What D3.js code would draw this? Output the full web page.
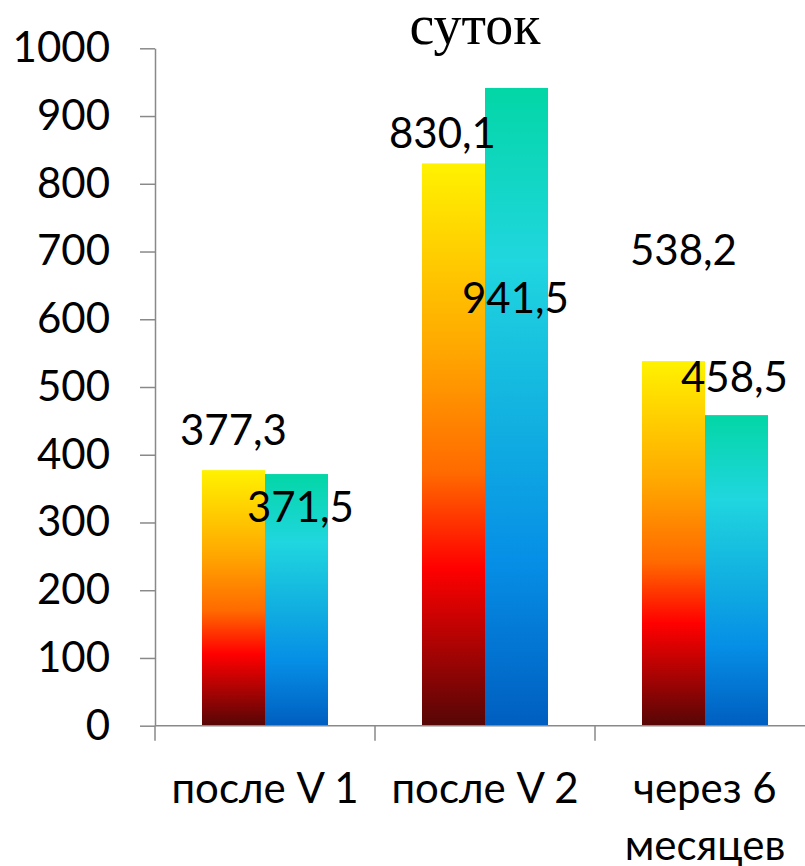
<!DOCTYPE html>
<html>
<head>
<meta charset="utf-8">
<script src="https://cdn.jsdelivr.net/npm/d3@7"></script>
<style>
  html, body { margin: 0; padding: 0; background: #fff; }
  svg { display: block; }
  .tick text { font-family: Lato, "Noto Sans", sans-serif; fill: #000; }
</style>
</head>
<body>
<div id="chart"></div>
<script>

// data
const categories = ["после V 1", "после V 2", "через 6 месяцев"];
const seriesNames = ["s1", "s2"];
const series1 = [377.3, 830.1, 538.2];
const series2 = [371.5, 941.5, 458.5];
const valueLabels1 = ["377,3", "830,1", "538,2"];
const valueLabels2 = ["371,5", "941,5", "458,5"];
const yTicks = [0, 100, 200, 300, 400, 500, 600, 700, 800, 900, 1000];
const titleText = "суток";

// label nudges (px, relative to bar center / bar top) - the original labels sit oddly
const labelShift = [
	[[0, -25], [-11, -15], [10, -96]],
	[[4, 48], [-1, 225], [-2, -23]]
];

const width = 805, height = 866;
const margin = {top: 48, right: 0, bottom: 140, left: 155};

const svg = d3.select("#chart").append("svg")
	.attr("width", width)
	.attr("height", height);

// gradients, one per series, applied per bar
const defs = svg.append("defs");
const gradStops = [
	[[0, "#fff200"], [0.33, "#ffa800"], [0.55, "#ff6a00"], [0.72, "#ff0000"], [1, "#560606"]],
	[[0, "#03d6a6"], [0.27, "#20d6df"], [0.5, "#13b4e0"], [0.74, "#068fe6"], [1, "#005ec0"]]
];
gradStops.forEach((stops, i) => {
	let g = defs.append("linearGradient")
		.attr("id", "grad" + i)
		.attr("x1", 0).attr("y1", 0)
		.attr("x2", 0).attr("y2", 1);
	stops.forEach(s => {
		g.append("stop").attr("offset", s[0]).attr("stop-color", s[1]);
	});
});

// scales
const x0 = d3.scaleBand()
	.domain(categories)
	.range([margin.left, margin.left + 220 * categories.length])
	.padding(0);

const x1 = d3.scaleBand()
	.domain(seriesNames)
	.range([x0.bandwidth() / 2 - 63, x0.bandwidth() / 2 + 63])
	.padding(0);

const y = d3.scaleLinear()
	.domain([0, 1000])
	.range([725.7, 48.3]);

// y axis
const yAxis = d3.axisLeft(y)
	.tickValues(yTicks)
	.tickFormat(d3.format("d"))
	.tickSize(15)
	.tickPadding(30)
	.tickSizeOuter(0);

const gy = svg.append("g")
	.attr("transform", "translate(" + margin.left + ",0)")
	.call(yAxis);
gy.selectAll("line, path").attr("stroke", "#898989").attr("stroke-width", 1.5);
gy.selectAll("text").style("font-size", "42px");

// bars
const table = categories.map((c, i) => ({cat: c, vals: [series1[i], series2[i]]}));

const groups = svg.selectAll(".group")
	.data(table)
	.enter()
	.append("g")
	.attr("class", "group")
	.attr("transform", d => "translate(" + x0(d.cat) + ",0)");

groups.selectAll("rect")
	.data(d => d.vals.map((v, j) => ({key: seriesNames[j], v: v, j: j})))
	.enter()
	.append("rect")
	.attr("x", d => x1(d.key))
	.attr("y", d => y(d.v))
	.attr("width", x1.bandwidth())
	.attr("height", d => y(0) - y(d.v))
	.attr("fill", d => "url(#grad" + d.j + ")");

// x axis line and separators
svg.append("line")
	.attr("x1", margin.left).attr("x2", width)
	.attr("y1", y(0)).attr("y2", y(0))
	.attr("stroke", "#898989").attr("stroke-width", 1.5);

const seps = categories.map(c => x0(c)).concat([x0.range()[1]]);
svg.selectAll(".sep")
	.data(seps)
	.enter()
	.append("line")
	.attr("class", "sep")
	.attr("x1", d => d).attr("x2", d => d)
	.attr("y1", y(0)).attr("y2", y(0) + 15)
	.attr("stroke", "#898989").attr("stroke-width", 1.5);

// category labels (wrapped)
const catLines = [["после V 1"], ["после V 2"], ["через 6", "месяцев"]];
svg.selectAll(".cat")
	.data(categories)
	.enter()
	.append("text")
	.attr("class", "cat")
	.attr("text-anchor", "middle")
	.style("font-family", "Lato, 'Noto Sans', sans-serif")
	.style("font-size", "42px")
	.attr("y", 803)
	.each(function(d, i) {
		let t = d3.select(this);
		catLines[i].forEach((line, k) => {
			t.append("tspan")
				.attr("x", x0(d) + x0.bandwidth() / 2)
				.attr("dy", k === 0 ? 0 : 57)
				.text(line);
		});
	});

// value labels
[valueLabels1, valueLabels2].forEach((labels, j) => {
	const vals = j === 0 ? series1 : series2;
	svg.selectAll(".val" + j)
		.data(labels)
		.enter()
		.append("text")
		.attr("class", "val" + j)
		.attr("text-anchor", "middle")
		.style("font-family", "Lato, 'Noto Sans', sans-serif")
		.style("font-size", "42px")
		.attr("x", (d, i) => x0(categories[i]) + x1(seriesNames[j]) + x1.bandwidth() / 2 + labelShift[j][i][0])
		.attr("y", (d, i) => y(vals[i]) + labelShift[j][i][1])
		.text(d => d);
});

// title (cut off at top in the original)
svg.append("text")
	.attr("x", 475)
	.attr("y", 44)
	.attr("text-anchor", "middle")
	.style("font-family", "'Liberation Serif', 'DejaVu Serif', serif")
	.style("font-size", "56px")
	.text(titleText);

</script>
</body>
</html>
